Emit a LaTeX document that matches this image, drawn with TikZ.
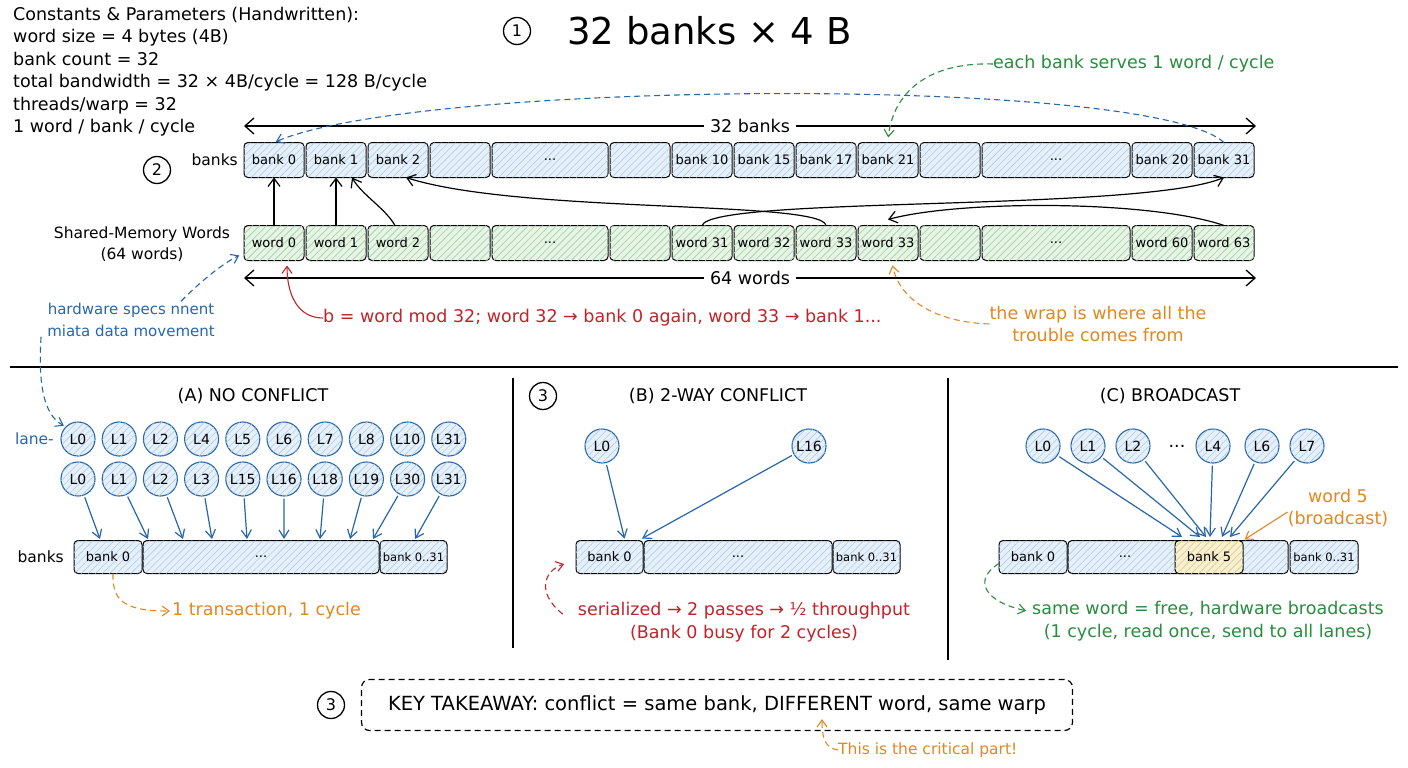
\documentclass[tikz,border=0pt]{standalone}
\usepackage{fontspec}
\setmainfont{DejaVu Sans}
\usetikzlibrary{arrows.meta,positioning,patterns.meta,calc}

\definecolor{bankfill}{RGB}{229,240,250}
\definecolor{bankhatch}{RGB}{176,204,230}
\definecolor{wordfill}{RGB}{231,245,227}
\definecolor{wordhatch}{RGB}{178,216,172}
\definecolor{hotfill}{RGB}{251,240,204}
\definecolor{hothatch}{RGB}{232,212,150}
\definecolor{laneblue}{RGB}{40,102,170}
\definecolor{notered}{RGB}{192,36,42}
\definecolor{noteorange}{RGB}{226,136,32}
\definecolor{notegreen}{RGB}{42,140,62}

\begin{document}
\begin{tikzpicture}[x=1pt,y=-1pt,
txt/.style={inner sep=0pt,font=\fontsize{17.5}{22.4}\selectfont},
smalltxt/.style={inner sep=0pt,font=\fontsize{15}{21.5}\selectfont},
numcirc/.style={circle,draw,line width=1.3pt,minimum size=27pt,inner sep=0pt,font=\fontsize{16}{16}\selectfont},
bankbox/.style={draw,line width=1pt,rounded corners=4pt,outer sep=0pt,inner sep=1pt,minimum width=60pt,minimum height=35pt,
  fill=bankfill,postaction={pattern={Lines[angle=45,distance=5pt,line width=0.6pt]},pattern color=bankhatch},
  font=\fontsize{13}{14}\selectfont},
wordbox/.style={bankbox,fill=wordfill,postaction={pattern={Lines[angle=45,distance=5pt,line width=0.6pt]},pattern color=wordhatch}},
hotbox/.style={bankbox,fill=hotfill,postaction={pattern={Lines[angle=45,distance=5pt,line width=0.6pt]},pattern color=hothatch}},
bankrow/.style={bankbox,minimum height=33pt},
lane/.style={circle,draw=laneblue,line width=1.1pt,minimum size=34pt,inner sep=0pt,fill=bankfill,
  postaction={pattern={Lines[angle=45,distance=5pt,line width=0.6pt]},pattern color=bankhatch},
  font=\fontsize{14}{14}\selectfont},
dim/.style={{Straight Barb[length=9pt,width=16pt]}-{Straight Barb[length=9pt,width=16pt]},line width=1.3pt},
link/.style={-{Straight Barb[length=8pt,width=12pt]},line width=1.2pt},
push/.style={-{Straight Barb[length=8pt,width=10pt]},laneblue,line width=1.2pt,shorten <=2pt},
note/.style={-{Straight Barb[length=7pt,width=10pt]},line width=1.1pt,dashed,dash pattern=on 6pt off 4pt,shorten >=2pt},
sep/.style={line width=1.6pt}
]
\useasboundingbox (0,0) rectangle (1408,768);
\fill[white] (0,0) rectangle (1408,768);

% header
\node[txt,align=left,anchor=north west] (params) at (13,7) {Constants \& Parameters (Handwritten):\\word size = 4 bytes (4B)\\bank count = 32\\total bandwidth = 32 × 4B/cycle = 128 B/cycle\\threads/warp = 32\\1 word / bank / cycle};
\node[numcirc] (oneMark) at (517,31) {1};
\node[anchor=west,inner sep=0pt,font=\fontsize{37}{40}\selectfont] (title) at (567,31) {32 banks × 4 B};

% bank row
\node[numcirc] (twoMark) at (157,170) {2};
\node[txt,anchor=east,font=\fontsize{15.5}{18}\selectfont] (bkLabel) at (238,160) {banks};
\node[bankbox,anchor=west] (bk0) at (244,160) {bank 0};
\node[bankbox,right=2pt of bk0] (bk1) {bank 1};
\node[bankbox,right=2pt of bk1] (bk2) {bank 2};
\node[bankbox,right=2pt of bk2] (bkgapA) {};
\node[bankbox,right=2pt of bkgapA,minimum width=116pt] (bkdotsA) {...};
\node[bankbox,right=2pt of bkdotsA] (bkgapB) {};
\node[bankbox,right=2pt of bkgapB] (bk10) {bank 10};
\node[bankbox,right=2pt of bk10] (bk15) {bank 15};
\node[bankbox,right=2pt of bk15] (bk17) {bank 17};
\node[bankbox,right=2pt of bk17] (bk21) {bank 21};
\node[bankbox,right=2pt of bk21] (bkgapC) {};
\node[bankbox,right=2pt of bkgapC,minimum width=148pt] (bkdotsB) {...};
\node[bankbox,right=2pt of bkdotsB] (bk20) {bank 20};
\node[bankbox,right=2pt of bk20] (bk31) {bank 31};

% word row
\node[txt,align=center,font=\fontsize{15.5}{21}\selectfont] (wdLabel) at (142,244) {Shared-Memory Words\\(64 words)};
\node[wordbox,anchor=west] (wd0) at (244,243) {word 0};
\node[wordbox,right=2pt of wd0] (wd1) {word 1};
\node[wordbox,right=2pt of wd1] (wd2) {word 2};
\node[wordbox,right=2pt of wd2] (wdgapA) {};
\node[wordbox,right=2pt of wdgapA,minimum width=116pt] (wddotsA) {...};
\node[wordbox,right=2pt of wddotsA] (wdgapB) {};
\node[wordbox,right=2pt of wdgapB] (wd31) {word 31};
\node[wordbox,right=2pt of wd31] (wd32) {word 32};
\node[wordbox,right=2pt of wd32] (wd33) {word 33};
\node[wordbox,right=2pt of wd33] (wd33b) {word 33};
\node[wordbox,right=2pt of wd33b] (wdgapC) {};
\node[wordbox,right=2pt of wdgapC,minimum width=148pt] (wddotsB) {...};
\node[wordbox,right=2pt of wddotsB] (wd60) {word 60};
\node[wordbox,right=2pt of wd60] (wd63) {word 63};

% spans
\coordinate (bkL) at (244,126);
\coordinate (bkR) at (1256,126);
\draw[dim] (bkL) -- node[txt,fill=white,inner xsep=6pt,inner ysep=2pt] (bkSpan) {32 banks} (bkR);
\coordinate (wdL) at (244,278);
\coordinate (wdR) at (1256,278);
\draw[dim] (wdL) -- node[txt,fill=white,inner xsep=6pt,inner ysep=2pt] (wdSpan) {64 words} (wdR);

% word -> bank mapping
\draw[link] (wd0.north) -- (bk0.south);
\draw[link] (wd1.north) -- (bk1.south);
\draw[link] ([xshift=-3pt]wd2.north) .. controls (385,208) and (362,195) .. ([xshift=16pt]bk1.south);
\draw[link] (wd33.north) .. controls (822,200) and (520,214) .. ([xshift=8pt]bk2.south);
\draw[link] (wd31.north) .. controls (712,196) and (1140,212) .. (bk31.south);
\draw[link] (wd63.north) .. controls (1150,200) and (960,200) .. ([yshift=6pt]wd33b.north);

% notes around the rows
\node[txt,notegreen,anchor=west] (bankNote) at (993,64) {each bank serves 1 word / cycle};
\draw[note,notegreen] (bankNote.west) .. controls (925,62) and (893,95) .. ([yshift=3pt]bk21.north);
\draw[note,laneblue] (bk31.north) .. controls (1150,75) and (420,80) .. (bk0.north);
\node[txt,notered,anchor=west] (modNote) at (323,318) {b = word mod 32; word 32 → bank 0 again, word 33 → bank 1...};
\draw[note,solid,notered] (modNote.west) .. controls (298,318) and (287,295) .. ([xshift=13pt,yshift=-3pt]wd0.south);
\node[txt,noteorange,align=center] (wrapNote) at (1098,324) {the wrap is where all the\\trouble comes from};
\draw[note,noteorange] (wrapNote.west) .. controls (935,322) and (900,300) .. ([xshift=4pt,yshift=-3pt]wd33b.south);
\node[smalltxt,laneblue,align=center] (hwNote) at (131,320) {hardware specs nnent\\miata data movement};
\draw[note,laneblue] ([xshift=50pt,yshift=2pt]hwNote.north) .. controls (200,282) and (222,264) .. ([xshift=-3pt,yshift=6pt]wd0.south west);

% separators
\draw[sep] (10,367) -- (1398,367);
\draw[sep] (513,378) -- (513,648);
\draw[sep] (948,378) -- (948,660);

% (A) no conflict
\node[txt] (titleA) at (253,396) {(A) NO CONFLICT};
\node[txt,laneblue,anchor=east,font=\fontsize{15.5}{18}\selectfont] (laneLbl) at (54,439) {lane-};
\foreach \lab [count=\i] in {L0,L1,L2,L4,L5,L6,L7,L8,L10,L31}
  \node[lane] (laA\i) at ({78+41.2*(\i-1)},439) {\lab};
\foreach \lab [count=\i] in {L0,L1,L2,L3,L15,L16,L18,L19,L30,L31}
  \node[lane] (lbA\i) at ({78+41.2*(\i-1)},479) {\lab};
\draw[note,laneblue] ([xshift=-6pt]hwNote.south west) .. controls (38,385) and (44,415) .. (laA1.north west);
\node[txt,anchor=east,font=\fontsize{15.5}{18}\selectfont] (bAlbl) at (64,557) {banks};
\node[bankrow,minimum width=68pt,anchor=west] (bA0) at (74,557) {bank 0};
\node[bankrow,minimum width=236pt,right=1pt of bA0] (bAdots) {...};
\node[bankrow,minimum width=67pt,right=1pt of bAdots,font=\fontsize{11.5}{12}\selectfont] (bA31) {bank 0..31};
\foreach \i/\tx in {1/100,2/148,3/183,4/212,5/247,6/284,7/320,8/350,9/373,10/415} {
  \coordinate (tA\i) at (\tx,539);
  \draw[push] (lbA\i) -- (tA\i);
}
\node[txt,noteorange,anchor=west] (aNote) at (172,611) {1 transaction, 1 cycle};
\draw[note,noteorange] ([xshift=5pt]bA0.south) .. controls (112,602) and (126,611) .. (aNote.west);

% (B) 2-way conflict
\node[numcirc] (threeB) at (543,396) {3};
\node[txt] (titleB) at (718,396) {(B) 2-WAY CONFLICT};
\node[lane] (bL0) at (602,446) {L0};
\node[lane] (bL16) at (809,446) {L16};
\node[bankrow,minimum width=67pt,anchor=west] (bB0) at (576,557) {bank 0};
\node[bankrow,minimum width=188pt,right=1pt of bB0] (bBdots) {...};
\node[bankrow,minimum width=67pt,right=1pt of bBdots,font=\fontsize{11.5}{12}\selectfont] (bB31) {bank 0..31};
\draw[push] (bL0) -- ([xshift=15pt,yshift=2pt]bB0.north);
\draw[push] (bL16) -- ([xshift=-2pt,yshift=2pt]bBdots.north west);
\node[txt,notered,align=center] (bNote) at (744,622) {serialized → 2 passes → ½ throughput\\(Bank 0 busy for 2 cycles)};
\draw[note,notered] ([xshift=-15pt,yshift=-12pt]bNote.north west) .. controls (535,592) and (545,570) .. ([xshift=-10pt,yshift=10pt]bB0.south west);

% (C) broadcast
\node[txt] (titleC) at (1170,396) {(C) BROADCAST};
\foreach \lab/\x [count=\i] in {L0/1043,L1/1088,L2/1133,L4/1213,L6/1262,L7/1307}
  \node[lane] (cL\i) at (\x,446) {\lab};
\node[txt] (cDotsTop) at (1177,446) {...};
\node[bankrow,minimum width=68pt,anchor=west] (bC0) at (999,557) {bank 0};
\node[bankrow,minimum width=220pt,right=1pt of bC0] (bCdots) {};
\node[bankrow,minimum width=68pt,right=2pt of bCdots,font=\fontsize{11.5}{12}\selectfont] (bC31) {bank 0..31};
\node[hotbox,minimum height=33pt,minimum width=68pt] (bC5) at (1209,557) {bank 5};
\node[font=\fontsize{13}{14}\selectfont] (cDots) at (1125,557) {...};
\foreach \i/\tx in {1/1182,2/1200,3/1206,4/1210,5/1222,6/1230} {
  \coordinate (tC\i) at (\tx,537);
  \draw[push] (cL\i) -- (tC\i);
}
\node[txt,noteorange,align=center] (w5Note) at (1338,508) {word 5\\(broadcast)};
\draw[note,solid,noteorange] ([yshift=-4pt]w5Note.west) -- (bC5.north east);
\node[txt,notegreen,align=center] (cNote) at (1208,621) {same word = free, hardware broadcasts\\(1 cycle, read once, send to all lanes)};
\draw[note,notegreen] ([yshift=10pt]bC0.south west) .. controls (972,580) and (985,602) .. ([xshift=-4pt,yshift=-10pt]cNote.north west);

% takeaway
\node[numcirc] (threeKey) at (331,705) {3};
\node[draw,dashed,dash pattern=on 6pt off 4pt,line width=1.2pt,rounded corners=8pt,minimum width=711pt,minimum height=51pt,font=\fontsize{19.5}{20}\selectfont] (key) at (717,705) {KEY TAKEAWAY: conflict = same bank, DIFFERENT word, same warp};
\node[smalltxt,noteorange,anchor=west,font=\fontsize{15.5}{18}\selectfont] (critNote) at (838,750) {This is the critical part!};
\draw[note,noteorange] (critNote.west) .. controls (824,748) and (822,736) .. ([xshift=105pt,yshift=14pt]key.south);
\end{tikzpicture}
\end{document}
